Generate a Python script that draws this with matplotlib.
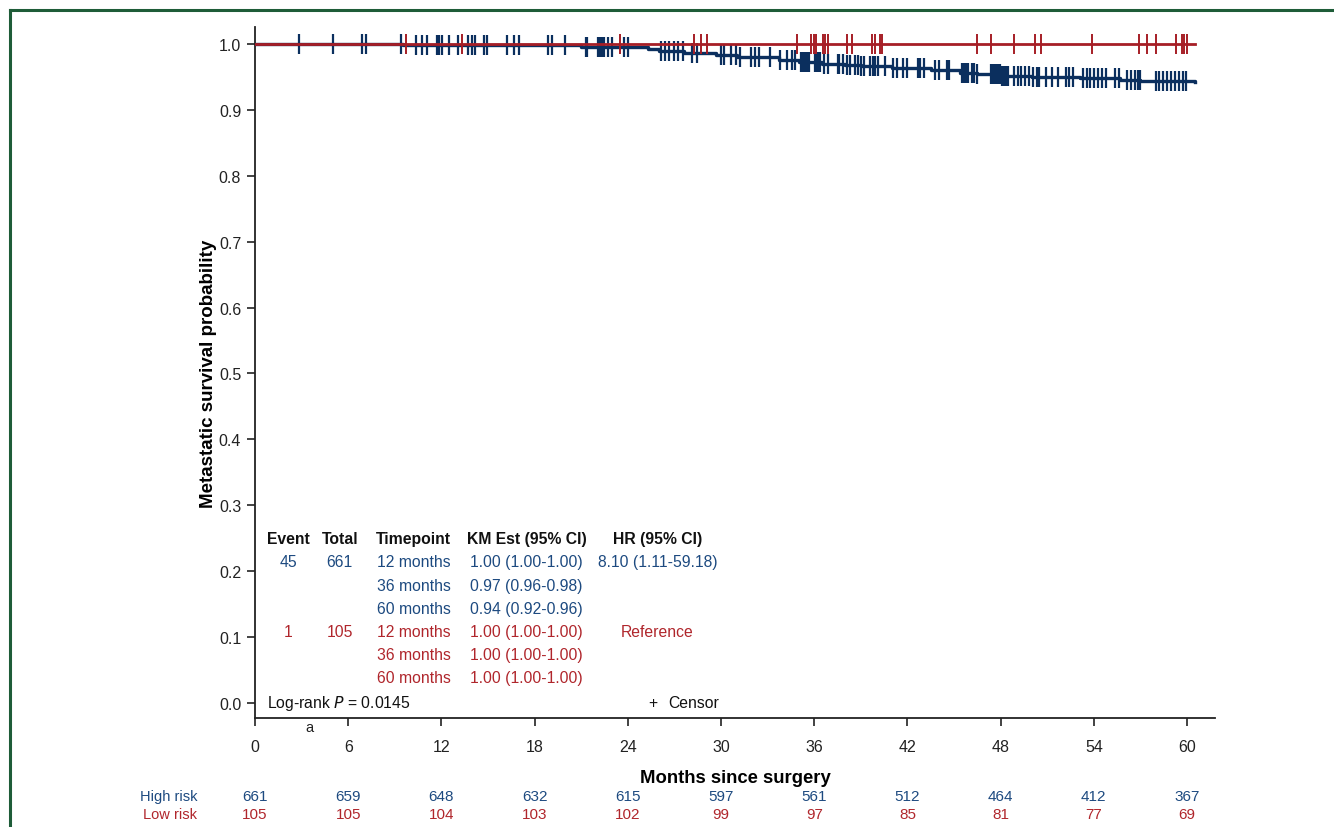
import numpy as np
import matplotlib
matplotlib.use('Agg')
import matplotlib.pyplot as plt
from matplotlib.lines import Line2D
from matplotlib.transforms import blended_transform_factory

plt.rcParams['font.family'] = ['Liberation Sans', 'DejaVu Sans']

BLUE_LINE = '#0b2f5e'
BLUE_TXT = '#1d4a80'
RED_LINE = '#a61e26'
RED_TXT = '#b0262c'

# KM step curve, high risk (months, survival)
high_t = [0, 9.5, 14, 21, 25.3, 26, 27.6, 29.7, 31, 33.7, 35, 36.5, 38, 39, 41,
          43.5, 45.4, 46.5, 48, 50, 53.1, 55.7, 57, 60.5]
high_s = [1.0, 0.999, 0.998, 0.996, 0.992, 0.989, 0.986, 0.983, 0.980, 0.975, 0.972,
          0.970, 0.968, 0.967, 0.964, 0.960, 0.956, 0.954, 0.952, 0.950, 0.948,
          0.945, 0.944, 0.943]

# low risk stays at 1.0
low_t = [0, 60.5]
low_s = [1.0, 1.0]

# censor times
high_cens = [2.85, 5.0, 6.91, 7.13, 9.42, 10.35, 10.77, 11.08, 11.74, 11.87, 12.06,
             12.51, 13.05, 13.70, 13.95, 14.17, 14.77, 14.92, 16.25, 16.70, 17.0,
             18.89, 19.10, 19.96, 21.29, 21.40, 22.07, 22.21, 22.36, 22.49, 22.69,
             23.0, 23.78, 24.0, 26.15, 26.4, 26.64, 26.96, 27.26, 27.55, 28.12,
             28.44, 29.97, 30.17, 30.66, 30.96, 31.25, 31.95, 32.19, 32.44, 33.18,
             33.8, 34.22, 34.54, 34.78, 35.15, 35.28, 35.4, 35.52, 35.65, 36.02,
             36.14, 36.26, 36.39, 36.63, 36.88, 37.5, 37.62, 37.87, 38.11, 38.31,
             38.61, 38.8, 39.03, 39.22, 39.59, 39.79, 39.89, 40.09, 40.58, 41.07,
             41.32, 41.69, 41.94, 42.68, 42.8, 43.05, 43.79, 44.03, 44.53, 44.65,
             45.51, 45.64, 45.76, 45.89, 46.13, 46.26, 46.5, 47.37, 47.49, 47.61,
             47.74, 47.86, 47.98, 48.11, 48.23, 48.35, 48.48, 48.85, 49.09, 49.34,
             49.59, 49.83, 50.08, 50.33, 50.45, 50.94, 51.31, 51.68, 52.18, 52.42,
             52.67, 53.29, 53.53, 53.78, 54.03, 54.27, 54.52, 54.77, 55.38, 55.63,
             56.12, 56.37, 56.62, 56.86, 56.99, 57.98, 58.22, 58.47, 58.72, 58.96,
             59.21, 59.46, 59.71, 59.95]
low_cens = [9.70, 13.33, 23.50, 28.29, 28.69, 29.11, 34.91, 35.82, 36.01, 36.14,
            36.54, 36.71, 36.88, 38.14, 38.41, 39.72, 39.92, 40.21, 40.38, 46.50,
            47.37, 48.85, 50.2, 50.57, 53.90, 56.91, 57.41, 57.97, 59.28, 59.68,
            59.83, 59.99]

# numbers at risk
risk_times = [0, 6, 12, 18, 24, 30, 36, 42, 48, 54, 60]
high_risk = [661, 659, 648, 632, 615, 597, 561, 512, 464, 412, 367]
low_risk = [105, 105, 104, 103, 102, 99, 97, 85, 81, 77, 69]

# summary table
table_head = ['Event', 'Total', 'Timepoint', 'KM Est (95% CI)', 'HR (95% CI)']
high_rows = [['45', '661', '12 months', '1.00 (1.00-1.00)', '8.10 (1.11-59.18)'],
             ['', '', '36 months', '0.97 (0.96-0.98)', ''],
             ['', '', '60 months', '0.94 (0.92-0.96)', '']]
low_rows = [['1', '105', '12 months', '1.00 (1.00-1.00)', 'Reference'],
            ['', '', '36 months', '1.00 (1.00-1.00)', ''],
            ['', '', '60 months', '1.00 (1.00-1.00)', '']]


def surv_at(t_steps, s_steps, times):
    idx = np.searchsorted(t_steps, times, side='right') - 1
    return np.array(s_steps)[idx]


fig = plt.figure(figsize=(13.34, 8.28), dpi=100)
ax = fig.add_axes([0.1912, 0.1316, 0.7196, 0.8346])

ax.step(high_t, high_s, where='post', color=BLUE_LINE, lw=2.4, zorder=3)
ax.step(low_t, low_s, where='post', color=RED_LINE, lw=2.0, zorder=4)
ax.plot(high_cens, surv_at(high_t, high_s, high_cens), ls='none', marker='|',
        ms=14, mew=1.6, color=BLUE_LINE, zorder=3)
ax.plot(low_cens, surv_at(low_t, low_s, low_cens), ls='none', marker='|',
        ms=14, mew=1.4, color=RED_LINE, zorder=4)

ax.set_xlim(0, 61.8)
ax.set_ylim(-0.0228, 1.0258)
ax.set_xticks(risk_times)
ax.set_yticks(np.arange(0, 1.01, 0.1))
ax.yaxis.set_major_formatter(plt.FuncFormatter(lambda v, p: f'{v:.1f}'))
ax.spines['top'].set_visible(False)
ax.spines['right'].set_visible(False)
for sp in ['left', 'bottom']:
    ax.spines[sp].set_linewidth(1.3)
    ax.spines[sp].set_color('#222222')
ax.tick_params(axis='x', length=6, width=1.2, pad=9, labelsize=11.5, colors='#222222')
ax.tick_params(axis='y', length=6, width=1.2, pad=4, labelsize=11.5, colors='#222222')

ax.set_ylabel('Metastatic survival probability', fontsize=13.5, fontweight='bold', labelpad=1)
ax.set_xlabel('Months since surgery', fontsize=13.3, fontweight='bold', labelpad=11)

# table inside plot
col_x = [2.13, 5.45, 10.22, 17.48, 25.9]
head_y = 0.249
row_y = [0.214, 0.179, 0.144, 0.109, 0.074, 0.039]
for x, h in zip(col_x, table_head):
    ax.text(x, head_y, h, ha='center', va='center', fontsize=11.3, fontweight='bold', color='#111111')
for i, row in enumerate(high_rows + low_rows):
    c = BLUE_TXT if i < 3 else RED_TXT
    for x, v in zip(col_x, row):
        ax.text(x, row_y[i], v, ha='center', va='center', fontsize=11.3, color=c)

ax.text(0.74, 0.0015, 'Log-rank $\\it{P}$ = 0.0145', ha='left', va='center', fontsize=11.3, color='#111111')
ax.text(25.62, 0.0015, '+', ha='center', va='center', fontsize=11.3, color='#111111')
ax.text(26.6, 0.0015, 'Censor', ha='left', va='center', fontsize=11.3, color='#111111')

tr = blended_transform_factory(ax.transData, ax.transAxes)
ax.text(3.5, -0.0125, 'a', ha='center', va='center', fontsize=10.5, color='#222222', transform=tr)

# numbers at risk under the axis
trf = blended_transform_factory(ax.transData, fig.transFigure)
for t, h, l in zip(risk_times, high_risk, low_risk):
    ax.text(t, 0.0374, str(h), ha='center', va='center', fontsize=11, color=BLUE_TXT, transform=trf, clip_on=False)
    ax.text(t, 0.0157, str(l), ha='center', va='center', fontsize=11, color=RED_TXT, transform=trf, clip_on=False)
fig.text(0.1477, 0.0374, 'High risk', ha='right', va='center', fontsize=10.5, color=BLUE_TXT)
fig.text(0.1477, 0.0157, 'Low risk', ha='right', va='center', fontsize=10.5, color=RED_TXT)

# green frame
fig.add_artist(Line2D([0.0072, 1.0], [0.9867, 0.9867], transform=fig.transFigure, color='#1e5c38', lw=2.2))
fig.add_artist(Line2D([0.0075, 0.0075], [0.0, 0.9867], transform=fig.transFigure, color='#1e5c38', lw=2.2))

fig.savefig('out.png', dpi=100)
